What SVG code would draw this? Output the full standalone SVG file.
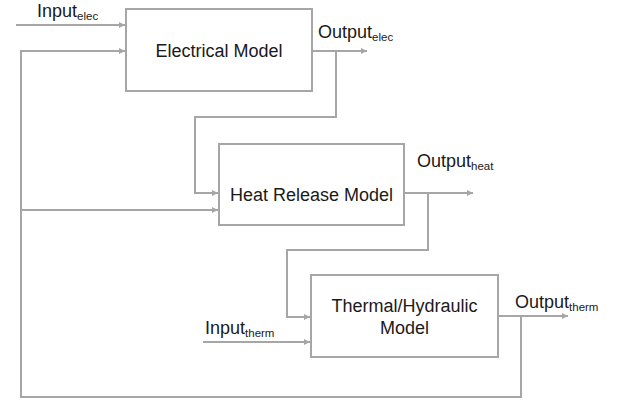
<svg xmlns="http://www.w3.org/2000/svg" width="623" height="402" viewBox="0 0 623 402">
<defs>
<marker id="ah" viewBox="0 0 10 10" refX="10" refY="5" markerWidth="6" markerHeight="6" markerUnits="userSpaceOnUse" orient="auto">
<path d="M0,0 L10,5 L0,10 z" fill="#a6a6a6"/>
</marker>
</defs>
<style>
.box{fill:#ffffff;stroke:#a6a6a6;stroke-width:2}
.ln{fill:none;stroke:#a6a6a6;stroke-width:2}
.ar{marker-end:url(#ah)}
text{font-family:"Liberation Sans",Arial,sans-serif;fill:#1a1a1a}
.t{font-size:18px}
.s{font-size:11.5px}
</style>
<g id="connectors">
<path class="ln ar" d="M16,25 H125"/>
<path class="ln ar" d="M21,397 V51 H125"/>
<path class="ln ar" d="M312,51 H367"/>
<path class="ln ar" d="M336,51 V117 H195 V193 H218"/>
<path class="ln ar" d="M21,210 H218"/>
<path class="ln ar" d="M404,193 H473"/>
<path class="ln ar" d="M428,193 V250 H287 V317 H310"/>
<path class="ln ar" d="M203,342 H310"/>
<path class="ln ar" d="M498,316 H568"/>
<path class="ln" d="M521,316 V397 H20"/>
</g>
<g id="electrical">
<rect class="box" x="126" y="9" width="186" height="82"/>
<text class="t" x="219" y="57" text-anchor="middle">Electrical Model</text>
</g>
<g id="heat">
<rect class="box" x="219" y="144" width="185" height="81"/>
<text class="t" x="311.5" y="201" text-anchor="middle">Heat Release Model</text>
</g>
<g id="thermal">
<rect class="box" x="311" y="275" width="187" height="82"/>
<text class="t" x="404.5" y="312" text-anchor="middle">Thermal/Hydraulic</text>
<text class="t" x="404.5" y="334" text-anchor="middle">Model</text>
</g>
<g id="labels">
<text x="37" y="17"><tspan class="t">Input</tspan><tspan class="s" dy="3">elec</tspan></text>
<text x="318" y="38"><tspan class="t">Output</tspan><tspan class="s" dy="3">elec</tspan></text>
<text x="417" y="167"><tspan class="t">Output</tspan><tspan class="s" dy="3">heat</tspan></text>
<text x="515" y="308"><tspan class="t">Output</tspan><tspan class="s" dy="3">therm</tspan></text>
<text x="205" y="334"><tspan class="t">Input</tspan><tspan class="s" dy="3">therm</tspan></text>
</g>
</svg>
